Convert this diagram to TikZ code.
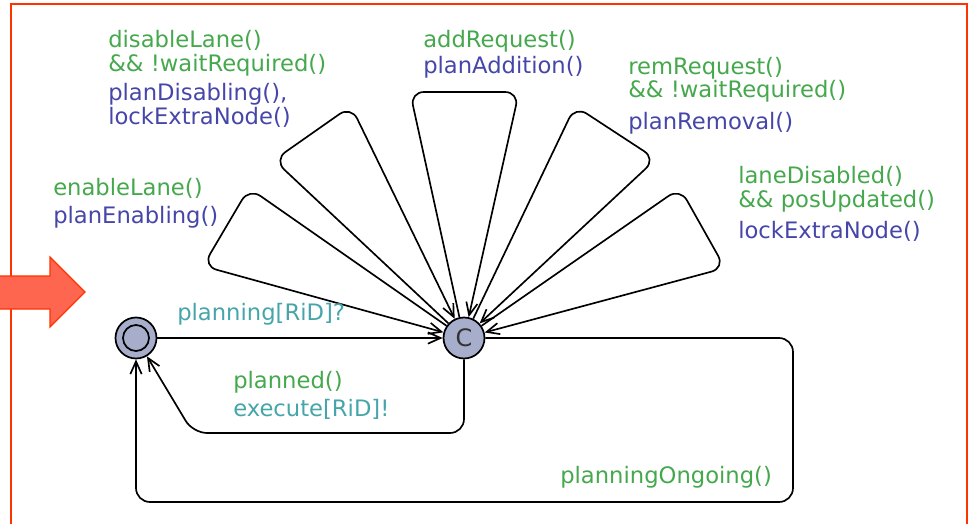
\documentclass[tikz,border=0pt]{standalone}
\usepackage{fontspec}
\setmainfont{DejaVu Sans}
\usetikzlibrary{arrows.meta}

\definecolor{guard}{HTML}{45A84C}
\definecolor{update}{HTML}{4646AA}
\definecolor{sync}{HTML}{46A5AA}
\definecolor{locfill}{HTML}{A6AECB}
\definecolor{framered}{HTML}{FF3300}
\definecolor{arrowred}{HTML}{FF6650}

\begin{document}
\begin{tikzpicture}[x=0.75pt,y=-0.75pt,
  loc/.style={circle, draw=black, line width=1.3pt, fill=locfill,
    minimum size=30.75pt, inner sep=0pt, text=black!80,
    font=\fontsize{18}{18}\selectfont},
  edge/.style={draw=black, line width=1.25pt,
    -{Straight Barb[length=9.5pt,width=8.5pt]}, rounded corners=10.5pt},
  lbl/.style={anchor=west, inner sep=0pt, font=\fontsize{17}{18}\selectfont,
    text height=12.8pt, text depth=2pt},
  grd/.style={lbl, text=guard},
  upd/.style={lbl, text=update},
  snc/.style={lbl, text=sync}]
\useasboundingbox (0,0) rectangle (970,524);
\clip (0,0) rectangle (970,524);

% template frame
\draw[framered, line width=1.6pt] (11,600) -- (11,4) -- (967,4) -- (967,600);

% initial-location marker
\draw[framered, fill=arrowred, line width=0.8pt]
  (-5,276) -- (50,276) -- (50,257) -- (85,292) -- (50,327) -- (50,309) -- (-5,309) -- cycle;

% locations
\node[loc] (init) at (136,338) {};
\draw[line width=1.3pt] (init.center) circle[radius=9.75pt];
\node[loc] (C) at (464,338) {C};

% bend points of the self-loops on C
\coordinate (a1) at (249,188);
\coordinate (b1) at (203,266);
\coordinate (a2) at (351,106);
\coordinate (b2) at (274,160);
\coordinate (a3) at (410,92);
\coordinate (b3) at (519,92);
\coordinate (a4) at (575,106);
\coordinate (b4) at (656,159);
\coordinate (a5) at (680,188);
\coordinate (b5) at (725,268);

\draw[edge] (C) -- (a1) -- (b1) -- (C);
\draw[edge] (C) -- (b2) -- (a2) -- (C);
\draw[edge] (C) -- (a3) -- (b3) -- (C);
\draw[edge] (C) -- (a4) -- (b4) -- (C);
\draw[edge] (C) -- (a5) -- (b5) -- (C);

% edges between the two locations
\draw[edge] (init) -- (C);

\coordinate (p1) at (464,433);
\coordinate (p2) at (193,433);
\draw[edge] (C) -- (p1) -- (p2) -- (init);

\coordinate (q1) at (793,338);
\coordinate (q2) at (793,502);
\coordinate (q3) at (136,502);
\draw[edge] (C) -- (q1) -- (q2) -- (q3) -- (init);

% labels
\node[grd] at (108,40) {disableLane()};
\node[grd] at (108,64) {\&\& !waitRequired()};
\node[upd] at (108,93) {planDisabling(),};
\node[upd] at (108,117) {lockExtraNode()};

\node[grd] at (53,188) {enableLane()};
\node[upd] at (53,216) {planEnabling()};

\node[grd] at (423,40) {addRequest()};
\node[upd] at (423,66) {planAddition()};

\node[grd] at (628,67) {remRequest()};
\node[grd] at (628,90) {\&\& !waitRequired()};
\node[upd] at (628,122) {planRemoval()};

\node[grd] at (738,176) {laneDisabled()};
\node[grd] at (738,200) {\&\& posUpdated()};
\node[upd] at (738,231) {lockExtraNode()};

\node[snc] at (177,313) {planning[RiD]?};
\node[grd] at (233,381) {planned()};
\node[snc] at (233,409) {execute[RiD]!};
\node[grd] at (560,476) {planningOngoing()};
\end{tikzpicture}
\end{document}
